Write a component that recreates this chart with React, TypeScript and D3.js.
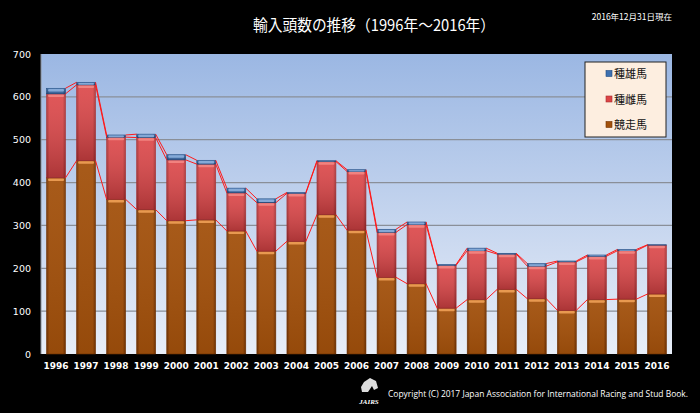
import React from "react";
import * as d3 from "d3";

const years = ["1996","1997","1998","1999","2000","2001","2002","2003","2004","2005","2006","2007","2008","2009","2010","2011","2012","2013","2014","2015","2016"];
const racehorses = [411,451,361,337,311,313,287,240,263,325,289,179,164,107,127,151,129,102,127,128,140];
const broodmares = [196,177,145,168,142,130,89,113,112,124,137,105,138,100,114,82,76,113,101,113,114];
const stallions = [13,6,5,8,12,9,11,9,2,2,4,7,6,2,6,2,6,2,3,3,1];
const yTicks = [0,100,200,300,400,500,600,700];

const seriesNames = ["競走馬","種雌馬","種雄馬"];
const seriesColors = [
  { dark: "#733302", mid: "#a2500b", light: "#f3a45a", key: "o" },
  { dark: "#a92c2f", mid: "#dc4446", light: "#f58a86", key: "r" },
  { dark: "#1e4a80", mid: "#3e70b0", light: "#8fb3de", key: "b" },
];

const W = 700, H = 413;
const plot = { left: 41, right: 672, top: 54, bottom: 354 };

export default function App() {
  const x = d3.scaleBand<string>().domain(years).range([plot.left, plot.right]).paddingInner(0.37).paddingOuter(0.185);
  const y = d3.scaleLinear().domain([0, 700]).range([plot.bottom, plot.top]);
  const bw = x.bandwidth();

  const table = years.map((yr, i) => ({ year: yr, r: racehorses[i], m: broodmares[i], s: stallions[i] }));
  const stacked = d3.stack<any>().keys(["r", "m", "s"])(table);

  const legendItems = [
    { name: seriesNames[2], c: seriesColors[2] },
    { name: seriesNames[1], c: seriesColors[1] },
    { name: seriesNames[0], c: seriesColors[0] },
  ];

  return (
    <svg width={W} height={H} style={{ position: "absolute", left: 0, top: 0, display: "block" }}>
      <defs>
        <linearGradient id="bg" x1="0" y1="0" x2="0" y2="1">
          <stop offset="0" stopColor="#9bb7e3" />
          <stop offset="1" stopColor="#e8eef8" />
        </linearGradient>
        {seriesColors.map((c) => (
          <linearGradient key={c.key} id={"g" + c.key} x1="0" y1="0" x2="1" y2="0">
            <stop offset="0" stopColor={c.dark} />
            <stop offset="0.15" stopColor={c.mid} />
            <stop offset="0.5" stopColor={c.mid} />
            <stop offset="0.85" stopColor={c.mid} />
            <stop offset="1" stopColor={c.dark} />
          </linearGradient>
        ))}
        <linearGradient id="vo" x1="0" y1="0" x2="0" y2="1">
          <stop offset="0" stopColor="#ffffff" stopOpacity="0.06" />
          <stop offset="1" stopColor="#000000" stopOpacity="0.08" />
        </linearGradient>
        <linearGradient id="vr" x1="0" y1="0" x2="0" y2="1">
          <stop offset="0" stopColor="#ffffff" stopOpacity="0.1" />
          <stop offset="1" stopColor="#000000" stopOpacity="0.22" />
        </linearGradient>
        <linearGradient id="vb" x1="0" y1="0" x2="0" y2="1">
          <stop offset="0" stopColor="#ffffff" stopOpacity="0.1" />
          <stop offset="1" stopColor="#000000" stopOpacity="0.2" />
        </linearGradient>
      </defs>
      <rect x={0} y={0} width={W} height={H} fill="#000" />
      <rect x={plot.left} y={plot.top} width={plot.right - plot.left} height={plot.bottom - plot.top} fill="url(#bg)" />
      {yTicks.filter((t) => t > 0 && t < 700).map((t) => (
        <line key={t} x1={plot.left} x2={plot.right} y1={y(t)} y2={y(t)} stroke="#8a8f98" strokeWidth={1.2} />
      ))}
      <line x1={plot.left} x2={plot.left} y1={plot.top} y2={plot.bottom} stroke="#8a8f98" strokeWidth={1} />
      {yTicks.map((t) => (
        <text key={t} x={31} y={y(t) + 3.5} fill="#fff" fontSize={9.5} textAnchor="end" fontFamily="DejaVu Sans, sans-serif">{t}</text>
      ))}
      {/* bars */}
      {stacked.map((layer, k) => (
        <g key={k}>
          {layer.map((d, i) => {
            const x0 = x(years[i])!;
            const y0 = y(d[1]);
            const h = y(d[0]) - y(d[1]);
            if (h <= 0) return null;
            const c = seriesColors[k];
            return (
              <g key={i}>
                <rect x={x0} y={y0} width={bw} height={h} fill={`url(#g${c.key})`} stroke={c.dark} strokeWidth={0.6} />
                <rect x={x0} y={y0} width={bw} height={h} fill={`url(#v${c.key})`} />
                <rect x={x0 + 1.5} y={y0 + 0.6} width={bw - 3} height={Math.min(2.5, h - 0.6)} fill={c.light} opacity={0.85} rx={1} />
              </g>
            );
          })}
        </g>
      ))}
      {/* series lines */}
      {stacked.map((layer, k) => (
        <g key={"sl" + k}>
          {layer.slice(0, -1).map((d, i) => {
            const n = layer[i + 1];
            return (
              <line key={i} x1={x(years[i])! + bw} y1={y(d[1])} x2={x(years[i + 1])!} y2={y(n[1])} stroke="#ff1a1a" strokeWidth={1} />
            );
          })}
        </g>
      ))}
      {years.map((yr) => (
        <text key={yr} x={x(yr)! + bw / 2} y={369} fill="#fff" fontSize={9} fontWeight="bold" textAnchor="middle" fontFamily="DejaVu Sans, sans-serif">{yr}</text>
      ))}
      {/* legend */}
      <rect x={585} y={62} width={81} height={75} fill="#fdeee0" stroke="#222" strokeWidth={1} />
      {legendItems.map((it, i) => (
        <g key={i} transform={`translate(606, ${74 + i * 25.5})`}>
          <rect x={0} y={-3.5} width={6} height={6} fill={it.c.mid} stroke={it.c.dark} strokeWidth={0.6} />
          <text x={8} y={4} fontSize={11} fill="#111" fontFamily="Noto Sans CJK JP, sans-serif">{it.name}</text>
        </g>
      ))}
      {/* title */}
      <text x={374} y={31} fill="#fff" fontSize={15.5} textAnchor="middle" textLength={242} lengthAdjust="spacingAndGlyphs" fontFamily="Noto Sans CJK JP, sans-serif">輸入頭数の推移（1996年～2016年）</text>
      <text x={672} y={19.5} fill="#fff" fontSize={8.5} textAnchor="end" fontFamily="Noto Sans CJK JP, sans-serif">2016年12月31日現在</text>
      {/* footer */}
      <g transform="translate(356,378)">
        <path d="M8,4 L14,0 L20,3 L22,10 L18,12 L16,8 L12,14 L6,14 L5,9 Z" fill="#ddd" />
        <text x={13} y={26} fill="#fff" fontSize={7} fontStyle="italic" fontWeight="bold" textAnchor="middle" fontFamily="Liberation Serif, serif">JAIRS</text>
      </g>
      <text x={388} y={397} fill="#fff" fontSize={8.3} textLength={300} lengthAdjust="spacingAndGlyphs" fontFamily="Open Sans, sans-serif">Copyright (C) 2017 Japan Association for International Racing and Stud Book.</text>
    </svg>
  );
}
